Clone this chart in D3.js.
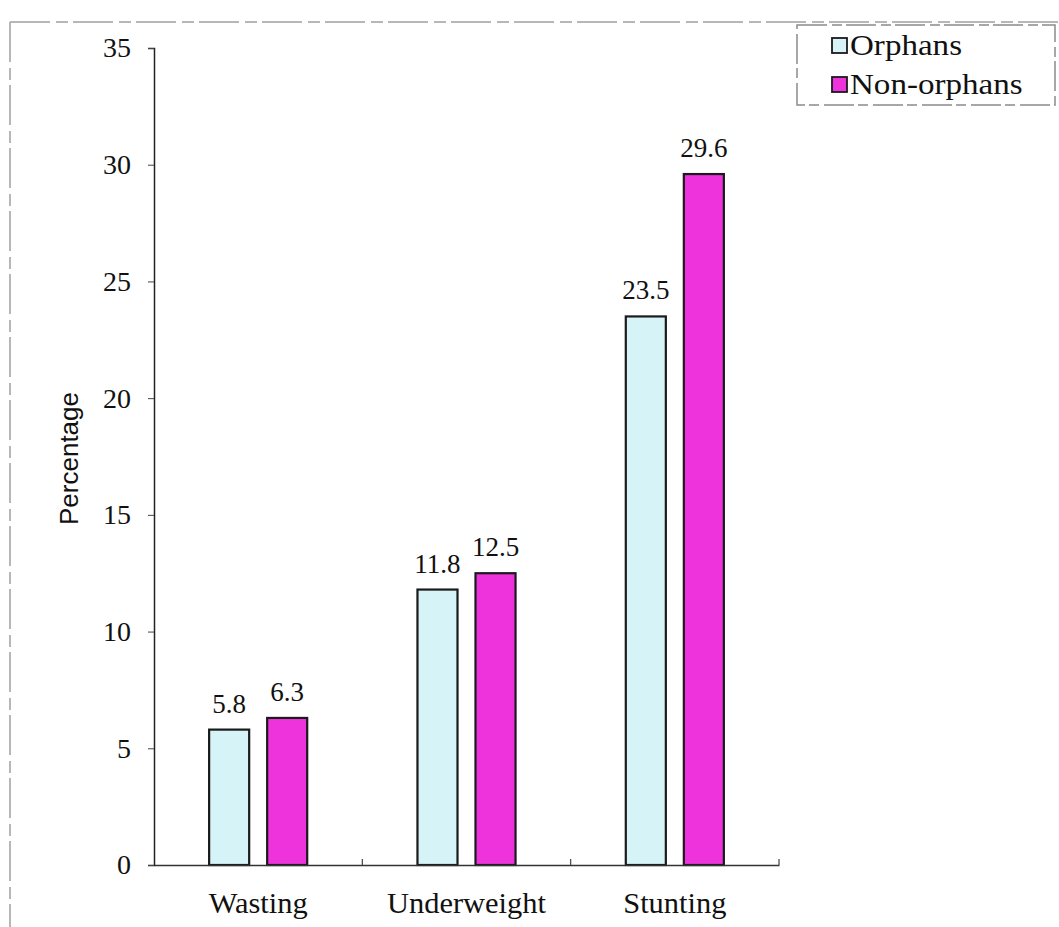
<!DOCTYPE html>
<html>
<head>
<meta charset="utf-8">
<script src="https://cdn.jsdelivr.net/npm/d3@7"></script>
<style>
  html, body { margin: 0; padding: 0; background: #fff; }
  svg { display: block; }
</style>
</head>
<body>
<div id="chart"></div>
<script>
// Malnutrition indicators, orphans vs non-orphans (%)
const categories = ["Wasting", "Underweight", "Stunting"];
const seriesNames = ["Orphans", "Non-orphans"];
const orphans = [5.8, 11.8, 23.5];
const nonOrphans = [6.3, 12.5, 29.6];
const yTicks = [0, 5, 10, 15, 20, 25, 30, 35];
const colors = ["#d6f4f7", "#ee33dd"];

const W = 1059, H = 927;
const plot = { left: 154, right: 779, top: 48, bottom: 865 };
const serif = "Liberation Serif, Times New Roman, serif";

const svg = d3.select("#chart").append("svg")
  .attr("width", W).attr("height", H);

// Page frame
const frame = svg.append("g").attr("stroke", "#a0a0a0").attr("stroke-width", 1.5)
  .attr("stroke-dasharray", "40,6,12,5");
frame.append("line").attr("x1", 10).attr("x2", W).attr("y1", 22).attr("y2", 22);
frame.append("line").attr("x1", 10).attr("x2", 10).attr("y1", 22).attr("y2", H);

const y = d3.scaleLinear().domain([0, 35]).range([plot.bottom, plot.top]);
const x0 = d3.scaleBand().domain(categories).range([plot.left, plot.right]).padding(0);
const x1 = d3.scaleBand().domain(seriesNames).range([0, x0.bandwidth()])
  .paddingInner(0.31).paddingOuter(0.95);

// Y axis
const yAxis = svg.append("g")
  .attr("transform", `translate(${plot.left},0)`)
  .call(d3.axisLeft(y).tickValues(yTicks).tickSize(6).tickPadding(17).tickFormat(d3.format("d")));
yAxis.select(".domain").attr("stroke", "#222").attr("stroke-width", 1.5);
yAxis.selectAll(".tick line").attr("stroke", "#444");
yAxis.selectAll(".tick text")
  .attr("font-family", serif).attr("font-size", 28).attr("fill", "#111");

// Bars
const series = [orphans, nonOrphans];
const groups = svg.append("g").selectAll("g")
  .data(categories)
  .join("g")
  .attr("transform", d => `translate(${x0(d)},0)`);

const cells = (d, i) => seriesNames.map((s, k) => ({ s, k, v: series[k][i] }));

groups.selectAll("rect")
  .data(cells)
  .join("rect")
  .attr("x", d => x1(d.s))
  .attr("width", x1.bandwidth())
  .attr("y", d => y(d.v))
  .attr("height", d => y(0) - y(d.v))
  .attr("fill", d => colors[d.k])
  .attr("stroke", "#1a1a1a")
  .attr("stroke-width", 2.2);

groups.selectAll("text.val")
  .data(cells)
  .join("text")
  .attr("class", "val")
  .attr("x", d => x1(d.s) + x1.bandwidth() / 2)
  .attr("y", d => y(d.v) - 17)
  .attr("text-anchor", "middle")
  .attr("font-family", serif)
  .attr("font-size", 27)
  .attr("fill", "#111")
  .text(d => d.v.toFixed(1));

// X axis
const xAxis = svg.append("g")
  .attr("transform", `translate(0,${plot.bottom})`)
  .call(d3.axisBottom(x0).tickSize(0).tickPadding(0));
xAxis.select(".domain").attr("stroke", "#333").attr("stroke-width", 1.5);
xAxis.selectAll(".tick text")
  .attr("dy", null)
  .attr("y", 48)
  .attr("font-family", serif).attr("font-size", 29).attr("fill", "#111")
  .each(function () {
    const len = this.getComputedTextLength();
    d3.select(this).attr("textLength", len * 1.05).attr("lengthAdjust", "spacingAndGlyphs");
  });
// Category separators
xAxis.selectAll("line.sep")
  .data(categories.slice(1).map(c => x0(c)).concat([plot.right]))
  .join("line")
  .attr("class", "sep")
  .attr("x1", d => d).attr("x2", d => d)
  .attr("y1", 0).attr("y2", -6)
  .attr("stroke", "#444").attr("stroke-width", 1.2);

// Y title
svg.append("text")
  .attr("transform", `translate(78,${(plot.top + plot.bottom) / 2 + 2}) rotate(-90)`)
  .attr("text-anchor", "middle")
  .attr("font-family", "Liberation Sans, Arial, sans-serif")
  .attr("font-size", 26)
  .attr("fill", "#111")
  .text("Percentage");

// Legend
const lg = svg.append("g");
lg.append("rect")
  .attr("x", 797).attr("y", 25).attr("width", 258).attr("height", 80)
  .attr("fill", "none").attr("stroke", "#8a8a8a").attr("stroke-width", 1.5)
  .attr("stroke-dasharray", "30,5,10,4");
const items = lg.selectAll("g.item")
  .data(seriesNames)
  .join("g")
  .attr("class", "item")
  .attr("transform", (d, i) => `translate(832,${38 + i * 39})`);
items.append("rect")
  .attr("width", 15).attr("height", 15)
  .attr("fill", (d, i) => colors[i])
  .attr("stroke", "#1a1a1a").attr("stroke-width", 1.8);
items.append("text")
  .attr("x", 18).attr("y", 17)
  .attr("font-family", serif)
  .attr("font-size", 29)
  .attr("fill", "#111")
  .text(d => d)
  .each(function () {
    const len = this.getComputedTextLength();
    d3.select(this).attr("textLength", len * 1.14).attr("lengthAdjust", "spacingAndGlyphs");
  });
</script>
</body>
</html>
